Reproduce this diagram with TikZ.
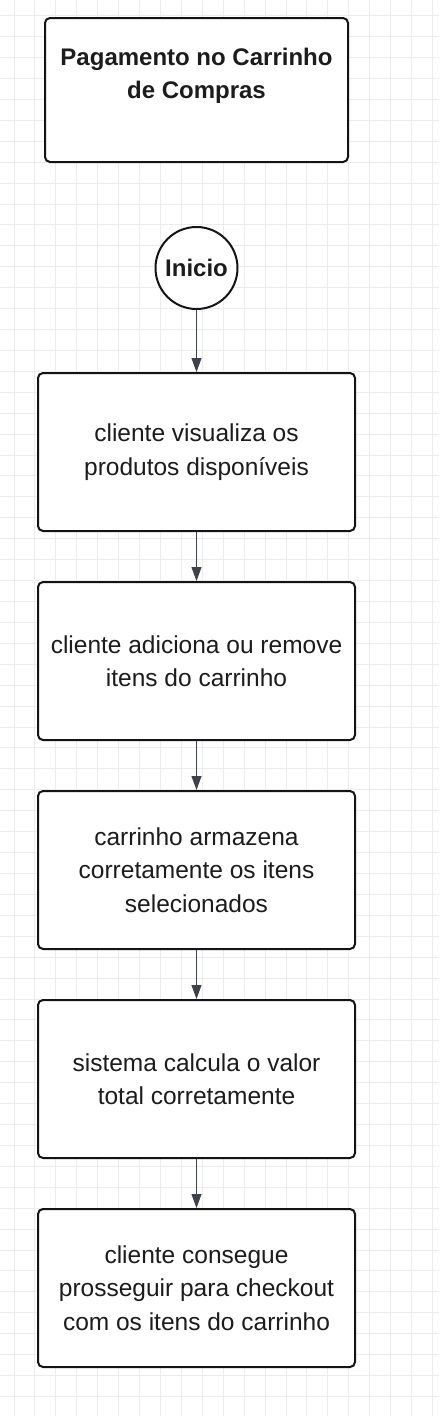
\documentclass[tikz,border=0pt]{standalone}
\usepackage{fontspec}
\setmainfont{Liberation Sans}
\usepackage{tikz}
\usetikzlibrary{arrows.meta, positioning}
\definecolor{mygrid}{RGB}{236,236,236}
\definecolor{myline}{RGB}{20,20,20}
\definecolor{myarrow}{RGB}{62,66,75}
\definecolor{mytext}{RGB}{28,28,28}
\tikzset{
  titlebox/.style={rectangle, draw=myline, fill=white, line width=2pt,
    rounded corners=5pt, minimum width=303pt, minimum height=144pt,
    align=center, text=mytext, font=\fontsize{24}{33}\selectfont\bfseries},
  startnode/.style={circle, draw=myline, fill=white, line width=2pt,
    minimum size=82pt, inner sep=0pt, text=mytext,
    font=\fontsize{24}{29}\selectfont\bfseries},
  stepbox/.style={rectangle, draw=myline, fill=white, line width=2pt,
    rounded corners=5pt, minimum width=317pt, minimum height=158pt,
    align=center, text=mytext, font=\fontsize{24.5}{33.5}\selectfont},
  arrow/.style={-{Triangle[width=10pt,length=14pt]}, line width=1.1pt, color=myarrow},
  gridline/.style={line width=0.9pt, color=mygrid}
}
\begin{document}
\begin{tikzpicture}[x=1pt, y=-1pt, node distance=49pt]
  \useasboundingbox (0,0) rectangle (439,1416);
  % background grid
  \foreach \i in {0,...,20}
    \draw[gridline] ({14+20.92*\i},0) -- ({14+20.92*\i},1416);
  \foreach \j in {0,...,66}
    \draw[gridline] (0,{15.7+20.92*\j}) -- (439,{15.7+20.92*\j});
  \node[titlebox] (titulo) at (196.5,90) {Pagamento no Carrinho\\de Compras\\\mbox{}};
  \node[startnode, below=63pt of titulo] (inicio) {Inicio};
  \node[stepbox, below=62pt of inicio] (passo1) {cliente visualiza os\\produtos disponíveis};
  \node[stepbox, below=of passo1] (passo2) {cliente adiciona ou remove\\itens do carrinho};
  \node[stepbox, below=of passo2] (passo3) {carrinho armazena\\corretamente os itens\\selecionados};
  \node[stepbox, below=of passo3] (passo4) {sistema calcula o valor\\total corretamente};
  \node[stepbox, below=of passo4] (passo5) {cliente consegue\\prosseguir para checkout\\com os itens do carrinho};
  \draw[arrow] (inicio) -- (passo1);
  \draw[arrow] (passo1) -- (passo2);
  \draw[arrow] (passo2) -- (passo3);
  \draw[arrow] (passo3) -- (passo4);
  \draw[arrow] (passo4) -- (passo5);
\end{tikzpicture}
\end{document}
